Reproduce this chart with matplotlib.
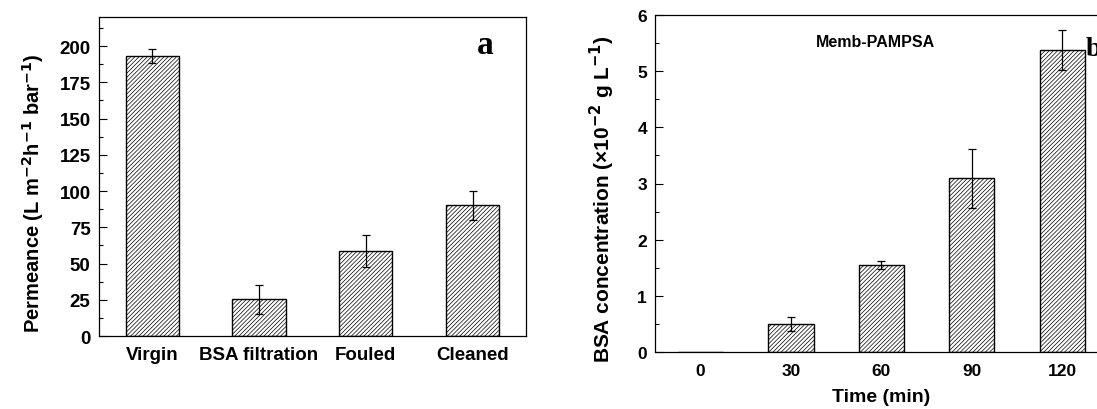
import numpy as np
import matplotlib
matplotlib.use('Agg')
from matplotlib import pyplot as plt
from matplotlib.ticker import MultipleLocator

plt.rcParams['font.family'] = ['Liberation Sans', 'DejaVu Sans']
plt.rcParams['font.weight'] = 'bold'
plt.rcParams['axes.labelweight'] = 'bold'
plt.rcParams['hatch.linewidth'] = 0.5
plt.rcParams['mathtext.default'] = 'bf'

# panel a data
stages = ['Virgin', 'BSA filtration', 'Fouled', 'Cleaned']
permeance = [193.3, 25.5, 58.7, 90.2]
permeance_err = [5, 10, 11, 10]

# panel b data
times = [0, 30, 60, 90, 120]
bsa_conc = [0, 0.50, 1.55, 3.09, 5.37]
bsa_err = [0, 0.12, 0.07, 0.52, 0.36]

fig = plt.figure(figsize=(10.97, 4.10), dpi=100)

ax1 = fig.add_axes([0.0902, 0.178, 0.3892, 0.778])
x1 = np.arange(len(stages))
ax1.bar(x1, permeance, width=0.5, color='white', edgecolor='black',
        hatch='////////', linewidth=1.0)
ax1.errorbar(x1, permeance, yerr=permeance_err, fmt='none', ecolor='black',
             elinewidth=0.9, capsize=3, capthick=0.9)
ax1.set_xlim(-0.5, 3.5)
ax1.set_ylim(0, 220)
ax1.set_xticks(x1)
ax1.set_xticklabels(stages)
ax1.yaxis.set_minor_locator(MultipleLocator(12.5))
ax1.set_yticks([0, 25, 50, 75, 100, 125, 150, 175, 200])
ax1.tick_params(axis='y', which='major', direction='in', length=6, width=0.8, labelsize=13.5, pad=6)
ax1.tick_params(axis='y', which='minor', direction='in', length=3, width=0.8)
ax1.tick_params(axis='x', length=0, labelsize=13.5, pad=7)
ax1.set_ylabel('Permeance (L m$^{-2}$h$^{-1}$ bar$^{-1}$)', fontsize=14.5)
ax1.yaxis.set_label_coords(-0.125, 0.45)
ax1.text(0.905, 0.915, 'a', transform=ax1.transAxes, fontsize=24,
         fontweight='bold', family='Liberation Serif', ha='center', va='center')
for s in ax1.spines.values():
    s.set_linewidth(0.9)

ax2 = fig.add_axes([0.5974, 0.1383, 0.412, 0.8234])
ax2.bar(times, bsa_conc, width=15, color='white', edgecolor='black',
        hatch='////////', linewidth=1.0)
ax2.errorbar(times[1:], bsa_conc[1:], yerr=bsa_err[1:], fmt='none', ecolor='black',
             elinewidth=0.9, capsize=3, capthick=0.9)
ax2.set_xlim(-15, 135)
ax2.set_ylim(0, 6)
ax2.set_xticks(times)
ax2.yaxis.set_major_locator(MultipleLocator(1))
ax2.yaxis.set_minor_locator(MultipleLocator(0.5))
ax2.tick_params(axis='y', which='major', direction='in', length=6, width=0.8, labelsize=12.5, pad=6)
ax2.tick_params(axis='y', which='minor', direction='in', length=3, width=0.8)
ax2.tick_params(axis='x', length=0, labelsize=12.5, pad=8)
ax2.set_ylabel('BSA concentration (\u00d710$^{-2}$ g L$^{-1}$)', fontsize=15)
ax2.yaxis.set_label_coords(-0.085, 0.455)
ax2.set_xlabel('Time (min)', fontsize=14, labelpad=7)
ax2.text(58, 5.52, 'Memb-PAMPSA', fontsize=11.5, fontweight='bold', ha='center', va='center')
ax2.text(0.953, 0.9, 'b', transform=ax2.transAxes, fontsize=20,
         fontweight='bold', family='Liberation Serif', ha='left', va='center')
for s in ax2.spines.values():
    s.set_linewidth(0.9)

fig.savefig('out.png', dpi=100)
